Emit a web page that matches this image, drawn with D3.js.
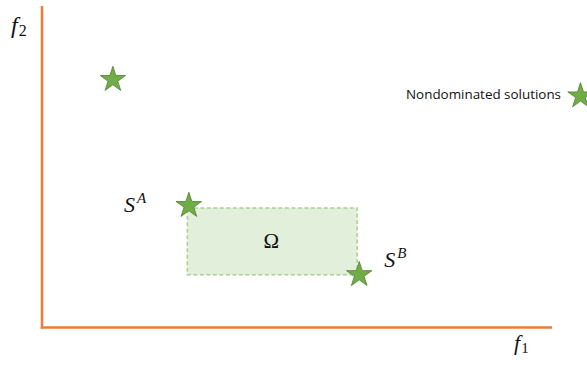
<!DOCTYPE html>
<html>
<head>
<meta charset="utf-8">
<script src="https://cdn.jsdelivr.net/npm/d3@7"></script>
<style>
  html, body { margin: 0; padding: 0; background: #fff; }
  svg { display: block; }
  .math { font-family: "Liberation Serif", "DejaVu Serif", serif; fill: #111; }
</style>
</head>
<body>
<svg id="chart" width="587" height="367"></svg>
<script>
// Objective space (f1, f2), both on a 0–100 scale
const xDomain = [0, 100];
const yDomain = [0, 100];

// Nondominated solutions
const solutionNames = ["S1", "SA", "SB"];
const solutionF1 = [13.9, 28.8, 62.2];
const solutionF2 = [77.1, 37.9, 16.4];

// Region Ω spanned between S^A and S^B
const omegaF1 = [28.5, 61.8];
const omegaF2 = [16.4, 37.2];

const legendLabel = "Nondominated solutions";

const svg = d3.select("#chart");
const x = d3.scaleLinear().domain(xDomain).range([42, 552]);
const y = d3.scaleLinear().domain(yDomain).range([327.5, 6]);

const green = "#70ad47", greenDark = "#507e32";
const starPath = d3.symbol(d3.symbolStar, 200)();

// Ω rectangle
svg.append("rect")
  .attr("x", x(omegaF1[0]))
  .attr("y", y(omegaF2[1]))
  .attr("width", x(omegaF1[1]) - x(omegaF1[0]))
  .attr("height", y(omegaF2[0]) - y(omegaF2[1]))
  .attr("fill", "#e2efda")
  .attr("stroke", "#a9d18e")
  .attr("stroke-width", 1.5)
  .attr("stroke-dasharray", "4,2.5");

svg.append("text").attr("class", "math")
  .attr("x", (x(omegaF1[0]) + x(omegaF1[1])) / 2 - 1)
  .attr("y", 248)
  .attr("text-anchor", "middle")
  .attr("font-size", 21)
  .text("Ω");

// Axes: orange lines without ticks
const axisColor = "#ed7d31";
svg.append("line")
  .attr("x1", x(0)).attr("x2", x(0))
  .attr("y1", y(100)).attr("y2", y(0) + 1)
  .attr("stroke", axisColor).attr("stroke-width", 2.5);
svg.append("line")
  .attr("x1", x(0) - 1.25).attr("x2", x(100))
  .attr("y1", y(0)).attr("y2", y(0))
  .attr("stroke", axisColor).attr("stroke-width", 2.5);

// Stars for the solutions
svg.selectAll("path.sol")
  .data(solutionNames)
  .join("path")
  .attr("class", "sol")
  .attr("d", starPath)
  .attr("transform", (d, i) => `translate(${x(solutionF1[i])},${y(solutionF2[i])})`)
  .attr("fill", green)
  .attr("stroke", greenDark)
  .attr("stroke-width", 0.8);

// Axis titles
const f2 = svg.append("text").attr("class", "math").attr("x", 11).attr("y", 33);
f2.append("tspan").attr("font-style", "italic").attr("font-size", 24).text("f");
f2.append("tspan").attr("font-size", 16).attr("dx", 1).attr("dy", 3).text("2");

const f1 = svg.append("text").attr("class", "math").attr("x", 514).attr("y", 350);
f1.append("tspan").attr("font-style", "italic").attr("font-size", 22).text("f");
f1.append("tspan").attr("font-size", 15).attr("dx", 1).attr("dy", 3).text("1");

// Labels S^A and S^B
function solLabel(px, py, sup) {
  const t = svg.append("text").attr("class", "math").attr("x", px).attr("y", py);
  t.append("tspan").attr("font-style", "italic").attr("font-size", 22).text("S");
  t.append("tspan").attr("font-style", "italic").attr("font-size", 15)
    .attr("dx", 2).attr("dy", -9).text(sup);
}
solLabel(x(solutionF1[1]) - 65, y(solutionF2[1]) + 6, "A");
solLabel(x(solutionF1[2]) + 25, y(solutionF2[2]) - 8, "B");

// Legend
svg.append("text")
  .attr("x", 406).attr("y", 99)
  .attr("font-family", "'Open Sans', 'Liberation Sans', sans-serif")
  .attr("font-size", 12.5)
  .attr("fill", "#111")
  .attr("textLength", 155)
  .attr("lengthAdjust", "spacingAndGlyphs")
  .text(legendLabel);
svg.append("path")
  .attr("d", starPath)
  .attr("transform", "translate(580.5,96)")
  .attr("fill", green)
  .attr("stroke", greenDark)
  .attr("stroke-width", 0.8);
</script>
</body>
</html>
